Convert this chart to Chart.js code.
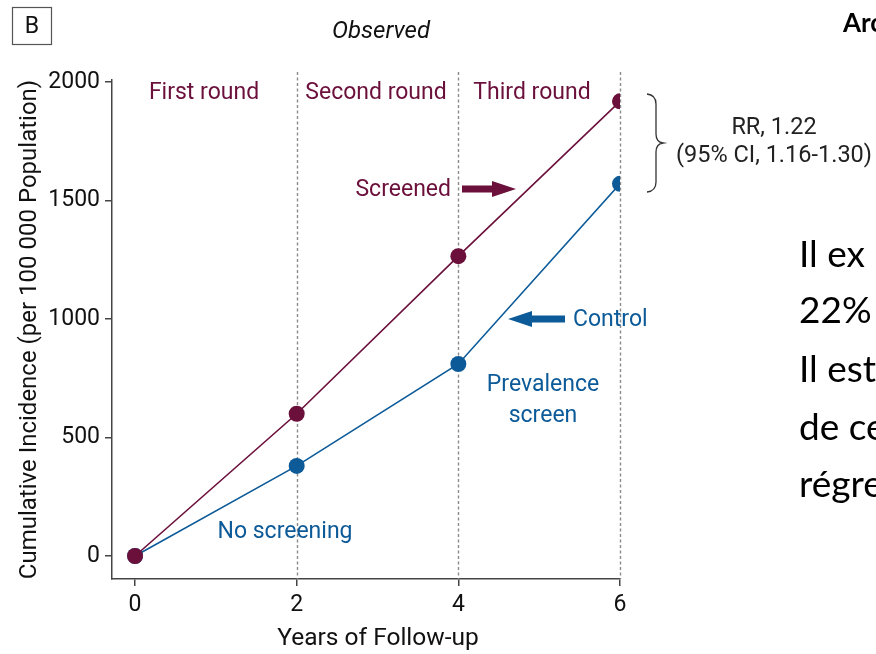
<!DOCTYPE html>
<html>
<head>
<meta charset="utf-8">
<script src="https://cdn.jsdelivr.net/npm/chart.js@4.4.1/dist/chart.umd.min.js"></script>
<style>
  html, body { margin: 0; padding: 0; background: #fff; }
  canvas { display: block; }
</style>
</head>
<body>
<canvas id="grafica" width="876" height="654"></canvas>
<script>
// datos
const anos = [0, 2, 4, 6];
const cribados = [0, 600, 1265, 1918];
const control = [0, 380, 810, 1570];
const ticksY = [0, 500, 1000, 1500, 2000];
const ticksX = [0, 2, 4, 6];
const rondas = ['First round', 'Second round', 'Third round'];
const lineasRonda = [2, 4, 6];
const textoFrances = ['Il ex', '22%', 'Il est', 'de ce', 'régre'];

const GRANATE = '#6b0f3b';
const AZUL = '#0c5a98';
const FUENTE = "Roboto, 'Liberation Sans', sans-serif";

function flecha(ctx, x0, x1, y, color) {
    // x1 es la punta
    const dir = x1 > x0 ? 1 : -1;
    const cabeza = 24;
    ctx.save();
    ctx.fillStyle = color;
    ctx.beginPath();
    ctx.moveTo(x0, y - 3.5);
    ctx.lineTo(x1 - dir * cabeza, y - 3.5);
    ctx.lineTo(x1 - dir * cabeza, y - 8);
    ctx.lineTo(x1, y);
    ctx.lineTo(x1 - dir * cabeza, y + 8);
    ctx.lineTo(x1 - dir * cabeza, y + 3.5);
    ctx.lineTo(x0, y + 3.5);
    ctx.closePath();
    ctx.fill();
    ctx.restore();
}

const pluginLineasRonda = {
    id: 'lineasRonda',
    beforeDatasetsDraw(chart) {
        const ctx = chart.ctx;
        const x = chart.scales.x;
        const area = chart.chartArea;
        ctx.save();
        ctx.strokeStyle = '#8a8a8a';
        ctx.lineWidth = 1.4;
        ctx.setLineDash([3, 2.5]);
        lineasRonda.forEach(v => {
            const px = Math.round(x.getPixelForValue(v)) + 0.5;
            ctx.beginPath();
            ctx.moveTo(px, 72);
            ctx.lineTo(px, area.bottom);
            ctx.stroke();
        });
        ctx.restore();
    }
};

const pluginAnotaciones = {
    id: 'anotaciones',
    afterDraw(chart) {
        const ctx = chart.ctx;
        ctx.save();
        ctx.textBaseline = 'middle';

        // recuadro B
        ctx.strokeStyle = '#555';
        ctx.lineWidth = 1.2;
        ctx.strokeRect(12.5, 7.5, 39, 37);
        ctx.fillStyle = '#111';
        ctx.textAlign = 'center';
        ctx.font = '23px ' + FUENTE;
        ctx.fillText('B', 32, 27);

        // titulo
        ctx.font = 'italic 24px ' + FUENTE;
        ctx.fillText('Observed', 381, 32);

        // titulo del eje x
        ctx.font = '24.5px ' + FUENTE;
        ctx.fillText('Years of Follow-up', 378, 639);

        // rondas
        ctx.fillStyle = GRANATE;
        ctx.font = '23px ' + FUENTE;
        const centros = [204, 376, 532];
        rondas.forEach((r, i) => ctx.fillText(r, centros[i], 93));

        // etiquetas de series
        ctx.textAlign = 'right';
        ctx.fillText('Screened', 451, 190);
        flecha(ctx, 462, 516, 189, GRANATE);

        ctx.fillStyle = AZUL;
        ctx.textAlign = 'left';
        ctx.fillText('Control', 573, 320);
        flecha(ctx, 565, 508, 319, AZUL);

        ctx.textAlign = 'center';
        ctx.fillText('Prevalence', 543, 385);
        ctx.fillText('screen', 543, 416);
        ctx.fillText('No screening', 285, 532);

        // llave y RR
        ctx.strokeStyle = '#333';
        ctx.lineWidth = 1.3;
        ctx.beginPath();
        ctx.moveTo(647, 94);
        ctx.quadraticCurveTo(656, 95, 656, 104);
        ctx.lineTo(656, 134);
        ctx.quadraticCurveTo(656, 142, 663, 143);
        ctx.quadraticCurveTo(656, 144, 656, 152);
        ctx.lineTo(656, 182);
        ctx.quadraticCurveTo(656, 191, 647, 192);
        ctx.stroke();

        ctx.fillStyle = '#222';
        ctx.font = '23.5px ' + FUENTE;
        ctx.fillText('RR, 1.22', 774, 128);
        ctx.fillText('(95% CI, 1.16-1.30)', 774, 156);

        // texto de la diapositiva (cortado en el borde)
        ctx.fillStyle = '#000';
        ctx.textAlign = 'left';
        ctx.textBaseline = 'alphabetic';
        ctx.font = 'bold 26px Lato, sans-serif';
        ctx.fillText('Archives', 843, 32);
        ctx.font = '37px Lato, sans-serif';
        const bases = [267, 323, 382, 440, 497];
        textoFrances.forEach((t, i) => ctx.fillText(t, 799, bases[i]));
        ctx.restore();
    }
};

new Chart(document.getElementById('grafica').getContext('2d'), {
    type: 'line',
    data: {
        datasets: [
            {
                label: 'Screened',
                data: anos.map((a, i) => ({ x: a, y: cribados[i] })),
                borderColor: GRANATE,
                backgroundColor: GRANATE,
                borderWidth: 1.6,
                pointRadius: 8,
                pointHoverRadius: 8,
                pointBorderWidth: 0
            },
            {
                label: 'Control',
                data: anos.map((a, i) => ({ x: a, y: control[i] })),
                borderColor: AZUL,
                backgroundColor: AZUL,
                borderWidth: 1.6,
                pointRadius: 8,
                pointHoverRadius: 8,
                pointBorderWidth: 0
            }
        ]
    },
    options: {
        responsive: false,
        animation: false,
        layout: { padding: { top: 80, right: 256, left: 0, bottom: 0 } },
        plugins: {
            legend: { display: false },
            title: { display: false },
            tooltip: { enabled: false }
        },
        scales: {
            x: {
                type: 'linear',
                min: -0.285,
                max: 6,
                afterBuildTicks: axis => { axis.ticks = ticksX.map(v => ({ value: v })); },
                afterFit: scale => { scale.height = 75; },
                grid: { drawOnChartArea: false, drawTicks: true, tickLength: 7, color: '#444', lineWidth: 1.5 },
                border: { display: true, color: '#444', width: 1.5 },
                ticks: { color: '#111', font: { family: FUENTE, size: 23 }, padding: 5, maxRotation: 0,
                         callback: v => String(v) }
            },
            y: {
                min: -97,
                max: 2008,
                afterBuildTicks: axis => { axis.ticks = ticksY.map(v => ({ value: v })); },
                afterFit: scale => { scale.width = 112; },
                grid: { drawOnChartArea: false, drawTicks: true, tickLength: 7, color: '#444', lineWidth: 1.5 },
                border: { display: true, color: '#444', width: 1.5 },
                ticks: { color: '#111', font: { family: FUENTE, size: 23 }, padding: 5,
                         callback: v => String(v) },
                title: {
                    display: true,
                    text: 'Cumulative Incidence (per 100 000 Population)',
                    color: '#111',
                    font: { family: FUENTE, size: 24 },
                    padding: { top: 16, bottom: 0 }
                }
            }
        }
    },
    plugins: [pluginLineasRonda, pluginAnotaciones]
});
</script>
</body>
</html>
